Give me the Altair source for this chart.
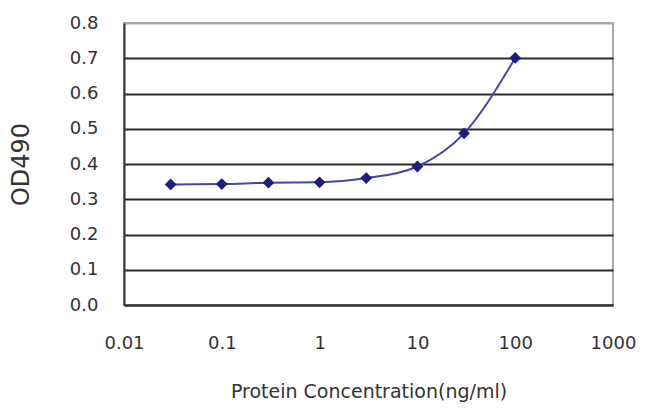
import altair as alt
import pandas as pd

conc = [0.03, 0.1, 0.3, 1, 3, 10, 30, 100]
od490 = [0.342, 0.343, 0.347, 0.348, 0.360, 0.393, 0.487, 0.701]
x_ticks = [0.01, 0.1, 1, 10, 100, 1000]
y_ticks = [0.0, 0.1, 0.2, 0.3, 0.4, 0.5, 0.6, 0.7, 0.8]

df = pd.DataFrame({"conc": conc, "od": od490})

FONT = "DejaVu Sans"
TXT = "#333333"

x_enc = alt.X(
    "conc:Q",
    scale=alt.Scale(type="log", domain=[0.01, 1000]),
    axis=alt.Axis(
        values=x_ticks, format="~g", title="Protein Concentration(ng/ml)",
        grid=False, ticks=False, labelFlush=False, labelPadding=29, titlePadding=30,
        domainColor="#333333", domainWidth=2,
        labelFont=FONT, labelFontSize=18, labelColor=TXT,
        titleFont=FONT, titleFontSize=19, titleColor=TXT, titleFontWeight="normal",
    ),
)
y_enc = alt.Y(
    "od:Q",
    scale=alt.Scale(domain=[0, 0.8]),
    axis=alt.Axis(
        values=y_ticks, format=".1f", title="OD490",
        grid=True, gridColor={"condition": {"test": "datum.value >= 0.8", "value": "#a8a8a8"}, "value": "#2a2a2a"},
        gridWidth=2, ticks=False, labelPadding=26, titlePadding=36,
        domainColor="#333333", domainWidth=2,
        labelFont=FONT, labelFontSize=18, labelColor=TXT,
        titleFont=FONT, titleFontSize=24, titleColor=TXT, titleFontWeight="normal",
    ),
)

base = alt.Chart(df).encode(x=x_enc, y=y_enc)
line = base.mark_line(interpolate="monotone", color="#4545a8", strokeWidth=2)
pts = base.mark_point(shape="diamond", filled=True, size=140, color="#1e1e7e", opacity=1)

chart = (
    alt.layer(line, pts)
    .properties(
        width=489, height=282,
        autosize=alt.AutoSizeParams(type="none"),
        padding={"left": 116, "top": 15, "right": 29, "bottom": 103},
        background="white",
    )
    .configure_view(stroke="#a8a8a8", strokeWidth=2)
)

chart.save("out.html", embed_options={"renderer": "svg", "actions": False})
